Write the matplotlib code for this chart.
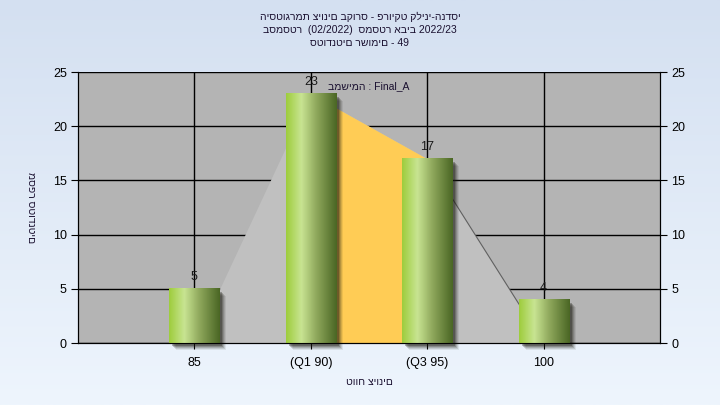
import numpy as np
import matplotlib
matplotlib.use("Agg")
import matplotlib.pyplot as plt
from matplotlib.colors import LinearSegmentedColormap
from matplotlib.patches import Rectangle

plt.rcParams['font.family'] = ['Liberation Sans', 'DejaVu Sans']

# data
categories = ["85", "(Q1 90)", "(Q3 95)", "100"]
counts = [5, 23, 17, 4]
curve_vals = [0, 23, 17, 0]
title_lines = [
    "היסטוגרמת ציונים בקורס - פרויקט קליני-הנדסי",
    "בסמסטר  (02/2022)  סמסטר אביב 2022/23",
    "סטודנטים רשומים - 49",
]
series_name = "במשימה : Final_A"
x_title = "טווח ציונים"
y_title = "מספר סטודנטים"

fig = plt.figure(figsize=(7.2, 4.05), dpi=100)

# figure background gradient
bg = fig.add_axes([0, 0, 1, 1], zorder=-10)
bg_cmap = LinearSegmentedColormap.from_list("bg", ["#d4e0f1", "#eef5fd"])
bg.imshow(np.linspace(0, 1, 256).reshape(-1, 1), cmap=bg_cmap, aspect="auto",
          extent=[0, 1, 0, 1], origin="upper")
bg.axis("off")

ax = fig.add_axes([0.1083, 0.153, 0.8083, 0.669])
ax.set_facecolor("#b4b4b4")
x = np.arange(len(categories))

# area behind the bars
ax.fill_between(x, curve_vals, color="#c0c0c0", zorder=1, lw=0)
ax.fill_between(x[1:3], curve_vals[1:3], color="#ffcc55", zorder=1.5, lw=0)
ax.plot(x[2:4], curve_vals[2:4], color="#606060", lw=0.8, zorder=1.6)

ax.grid(True, color="black", lw=1, zorder=2)
ax.set_axisbelow(True)

bar_w = 0.43
bar_cmap = LinearSegmentedColormap.from_list(
    "bar", [(0, "#9ecd3c"), (0.3, "#c8e492"), (0.6, "#8fa85c"), (1, "#4a6624")])
grad = np.linspace(0, 1, 128).reshape(1, -1)

px_x = 1 / 116.5
px_y = 1 / 10.84
for xi, h in zip(x, counts):
    # soft shadow
    for k, a in zip([7, 6, 5, 4, 3], [0.08, 0.12, 0.16, 0.22, 0.3]):
        ax.add_patch(Rectangle((xi - bar_w / 2 + k * px_x, -k * px_y), bar_w, h,
                               color="#1a1a10", alpha=a, lw=0, zorder=2.5,
                               clip_on=False))
    ax.imshow(grad, cmap=bar_cmap, aspect="auto", interpolation="bilinear",
              extent=[xi - bar_w / 2, xi + bar_w / 2, 0, h], zorder=3)
    ax.annotate(str(h), (xi, h), xytext=(0, 4), textcoords="offset points",
                ha="center", va="bottom", fontsize=9, color="#1a1a1a", zorder=4)

ax.set_xlim(-1, 4)
ax.set_ylim(0, 25)
ax.set_xticks(x)
ax.set_xticklabels(categories)
ax.set_yticks(range(0, 26, 5))
ax.tick_params(axis="both", labelsize=9, colors="black", length=5, pad=3)
ax.tick_params(axis="x", length=4, pad=6)
ax.spines["top"].set_visible(False)
for s in ["left", "bottom", "right"]:
    ax.spines[s].set_color("black")

ax2 = ax.twinx()
ax2.set_ylim(0, 25)
ax2.set_yticks(range(0, 26, 5))
ax2.tick_params(axis="y", labelsize=9, colors="black", length=5, pad=3)
ax2.spines["top"].set_visible(False)

ax.text(0.5, 0.948, series_name, transform=ax.transAxes, ha="center",
        va="center", fontsize=7.5, color="#1a1030", zorder=5)

ax.set_xlabel(x_title, fontsize=7.5, color="#1a1030", labelpad=6)
ax.set_ylabel(y_title, fontsize=7.5, color="#1a1030", rotation=270,
              labelpad=16, va="center")

for i, line in enumerate(title_lines):
    fig.text(0.5, 1 - (17 + 13 * i) / 405, line, ha="center", va="center",
             fontsize=7.5, color="#1a1030")

fig.savefig("out.png", dpi=100)
